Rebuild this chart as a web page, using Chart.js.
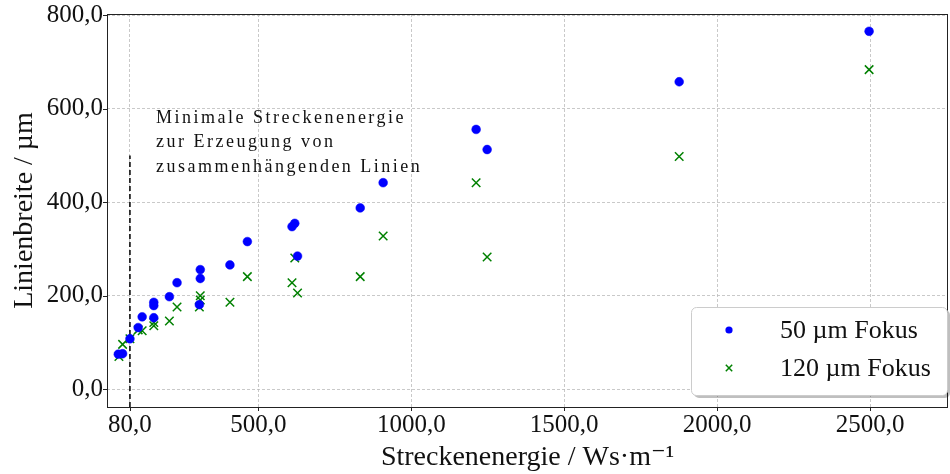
<!DOCTYPE html>
<html lang="de">
<head>
  <meta charset="UTF-8">
  <title>Linienbreite über Streckenenergie</title>
  <script src="https://cdn.jsdelivr.net/npm/chart.js"></script>
  <style>
    html, body { margin: 0; background: #fff; overflow: hidden; }
    .wrap { width: 950px; height: 474px; }
    canvas { display: block; }
  </style>
</head>
<body>
  <div class="wrap"><canvas id="graph" width="950" height="474"></canvas></div>

  <script>
    const energie50 = [42, 56, 80, 107, 120, 158, 158, 158, 209, 234, 307, 310, 310, 407, 464, 610, 619, 628, 833, 908, 1212, 1248, 1876, 2497];
    const breite50  = [75, 76, 108, 132, 155, 153, 179, 186, 198, 228, 181, 237, 256, 266, 316, 348, 355, 285, 388, 442, 556, 513, 658, 766];

    const energie120 = [44, 56, 80, 107, 120, 158, 158, 209, 234, 307, 310, 310, 407, 464, 610, 619, 628, 833, 908, 1212, 1248, 1876, 2497];
    const breite120  = [70, 96, 108, 127, 125, 136, 143, 146, 176, 176, 191, 200, 186, 241, 228, 281, 206, 241, 328, 442, 283, 498, 684];

    const xTicks = [80, 500, 1000, 1500, 2000, 2500];
    const yTicks = [0, 200, 400, 600, 800];

    const grenzeX = 80;     // minimale Streckenenergie
    const grenzeTop = 500;

    const hinweis = ["Minimale Streckenenergie", "zur Erzeugung von", "zusammenhängenden Linien"];
    const serif = "'Liberation Serif', 'DejaVu Serif', serif";

    const fmt = v => v.toFixed(1).replace('.', ',');
    const toPts = (xs, ys) => xs.map((x, i) => ({ x: x, y: ys[i] }));

    const rahmen = {
      id: 'rahmen',
      beforeDatasetsDraw(chart) {
        const { ctx, chartArea: a, scales } = chart;
        ctx.save();
        ctx.strokeStyle = '#222';
        ctx.lineWidth = 1;
        ctx.beginPath();
        xTicks.forEach(t => {
          const px = Math.round(scales.x.getPixelForValue(t)) + 0.5;
          ctx.moveTo(px, a.bottom); ctx.lineTo(px, a.bottom + 4);
        });
        yTicks.forEach(t => {
          const py = Math.round(scales.y.getPixelForValue(t)) + 0.5;
          ctx.moveTo(a.left, py); ctx.lineTo(a.left - 4, py);
        });
        ctx.stroke();
        ctx.strokeRect(a.left + 0.5, a.top + 0.5, a.right - a.left - 1, a.bottom - a.top);

        // Hinweistext
        ctx.fillStyle = '#111';
        ctx.font = "18px " + serif;
        ctx.letterSpacing = '2.5px';
        ctx.textBaseline = 'middle';
        const tx = scales.x.getPixelForValue(165);
        hinweis.forEach((s, i) => {
          ctx.fillText(s, tx, 118 + i * 24.5);
        });
        ctx.letterSpacing = '0px';
        ctx.restore();
      },
      afterDatasetsDraw(chart) {
        const { ctx, chartArea: a } = chart;
        const bx = 691, by = 307, bw = a.right - 691 - 1, bh = 88;
        ctx.save();
        ctx.fillStyle = 'rgba(0,0,0,0.25)';
        ctx.beginPath(); ctx.roundRect(bx + 3, by + 3, bw, bh, 5); ctx.fill();
        ctx.fillStyle = '#fff';
        ctx.strokeStyle = '#ccc';
        ctx.lineWidth = 1;
        ctx.beginPath(); ctx.roundRect(bx + 0.5, by + 0.5, bw, bh, 5); ctx.fill(); ctx.stroke();

        chart.data.datasets.filter(d => d.inLegend).forEach((d, i) => {
          const cy = 330 + i * 38;
          ctx.fillStyle = d.backgroundColor;
          ctx.strokeStyle = d.borderColor;
          ctx.lineWidth = d.borderWidth;
          ctx.beginPath();
          if (d.pointStyle === 'circle') {
            ctx.arc(729, cy, d.legendRadius, 0, Math.PI * 2); ctx.fill();
          } else {
            const r = d.legendRadius;
            ctx.moveTo(729 - r, cy - r); ctx.lineTo(729 + r, cy + r);
            ctx.moveTo(729 + r, cy - r); ctx.lineTo(729 - r, cy + r);
            ctx.stroke();
          }
          ctx.fillStyle = '#111';
          ctx.font = "26px " + serif;
          ctx.textBaseline = 'middle';
          ctx.fillText(d.label, 780, cy + 1);
        });
        ctx.restore();
      }
    };

    new Chart(document.getElementById('graph'), {
      type: 'scatter',
      data: {
        datasets: [
          {
            label: '50 µm Fokus',
            inLegend: true,
            data: toPts(energie50, breite50),
            pointStyle: 'circle',
            pointRadius: 4.4,
            legendRadius: 3.6,
            backgroundColor: '#0000ff',
            borderColor: '#0000ff',
            borderWidth: 0.5
          },
          {
            label: '120 µm Fokus',
            inLegend: true,
            data: toPts(energie120, breite120),
            pointStyle: 'crossRot',
            pointRadius: 6,
            legendRadius: 3.2,
            backgroundColor: '#008000',
            borderColor: '#008000',
            borderWidth: 1.5
          },
          {
            label: 'Grenze',
            type: 'line',
            data: [{ x: grenzeX, y: -38 }, { x: grenzeX, y: grenzeTop }],
            borderColor: '#000',
            borderWidth: 1.5,
            borderDash: [5, 3],
            pointRadius: 0,
            showLine: true,
            order: 5
          }
        ]
      },
      options: {
        responsive: false,
        animation: false,
        layout: { autoPadding: false, padding: { top: 14, right: 2, left: 0, bottom: 0 } },
        plugins: {
          legend: { display: false },
          tooltip: { enabled: false }
        },
        scales: {
          x: {
            type: 'linear',
            min: 5,
            max: 2755,
            afterBuildTicks: s => { s.ticks = xTicks.map(v => ({ value: v })); },
            afterFit: s => { s.height = 67; s.paddingLeft = 0; s.paddingRight = 0; },
            grid: { color: '#bbbbbb', lineWidth: 0.8, drawTicks: false },
            border: { display: false, dash: [3, 2] },
            ticks: {
              padding: 3,
              color: '#111',
              font: { family: serif, size: 25 },
              callback: v => fmt(v),
              maxRotation: 0
            },
            title: {
              display: true,
              text: 'Streckenenergie / Ws·m⁻¹',
              color: '#111',
              font: { family: serif, size: 28 },
              padding: { top: 0, bottom: 0 }
            }
          },
          y: {
            type: 'linear',
            min: -38,
            max: 803,
            afterBuildTicks: s => { s.ticks = yTicks.map(v => ({ value: v })); },
            afterFit: s => { s.width = 107; s.paddingTop = 0; s.paddingBottom = 0; },
            grid: { color: '#bbbbbb', lineWidth: 0.8, drawTicks: false },
            border: { display: false, dash: [3, 2] },
            ticks: {
              padding: 4,
              color: '#111',
              font: { family: serif, size: 25 },
              callback: v => fmt(v)
            },
            title: {
              display: true,
              text: 'Linienbreite / µm',
              color: '#111',
              font: { family: serif, size: 28 },
              padding: { top: 8, bottom: 0 }
            }
          }
        }
      },
      plugins: [rahmen]
    });
  </script>
</body>
</html>
